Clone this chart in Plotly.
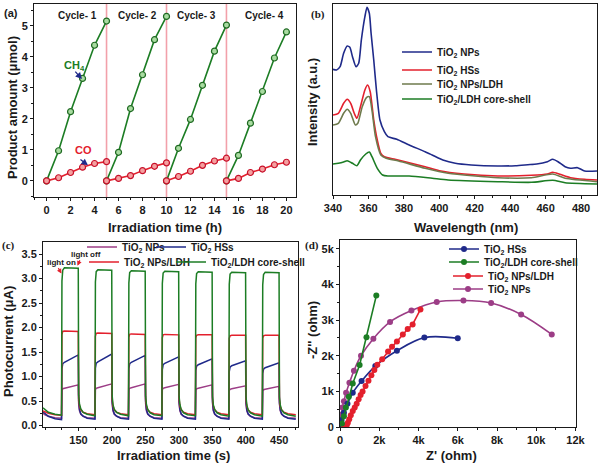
import plotly.graph_objects as go

# ---------------- Panel (a): product amount vs irradiation time ----------------
TIME_H = [[0, 1, 2, 3, 4, 5], [5, 6, 7, 8, 9, 10], [10, 11, 12, 13, 14, 15], [15, 16, 17, 18, 19, 20]]
CH4 = [[0, 0.97, 2.23, 3.30, 4.37, 5.15],
       [0, 0.92, 2.33, 3.42, 4.55, 5.30],
       [0, 1.05, 1.98, 3.08, 4.18, 5.02],
       [0, 0.82, 1.86, 2.88, 3.96, 4.80]]
CO = [[0, 0.10, 0.27, 0.44, 0.56, 0.62],
      [0, 0.08, 0.17, 0.33, 0.47, 0.58],
      [0, 0.14, 0.31, 0.50, 0.64, 0.73],
      [0, 0.08, 0.27, 0.38, 0.52, 0.60]]
CYCLE_BOUNDS = [5, 10, 15]
CYCLE_LABELS = ["Cycle- 1", "Cycle- 2", "Cycle- 3", "Cycle- 4"]
CYCLE_LABEL_X = [2.6, 7.55, 12.5, 18.2]

# ---------------- Panel (b): PL spectra ----------------
WL_NP = [340, 342, 344, 346, 348, 349.5, 351, 353, 354.5, 356, 358, 359.2, 360.5, 361.5, 363, 364.5, 366.5,
         369, 371, 376, 383, 392, 396, 402, 409, 418, 433, 443, 450, 455, 461, 464, 467, 471, 474, 478, 482, 489]
PL_NP = [125.7, 125, 128.3, 141.7, 149, 147.7, 138.3, 128.3, 131.7, 155, 178.3, 187.7, 181.7, 161.7, 135, 105, 75,
         63.3, 58.3, 55.7, 50, 43.3, 40, 35, 31.7, 30, 29, 29.3, 30.3, 31, 33.3, 35.7, 33.3, 28.3, 26.7, 27.3, 24, 24]
WL_HS = [340, 343, 346, 348, 350, 352, 353.5, 355.5, 358, 359.5, 361, 363, 365, 367, 369, 375, 383, 392, 400,
         414, 433, 452, 461, 464, 468, 474, 482, 489]
PL_HS = [80, 81.7, 91.7, 95.7, 91.7, 81.7, 76.7, 88.3, 105, 110, 103.3, 75, 55, 41.7, 38.3, 35.7, 32.3, 28.3,
         24.3, 21, 19, 19.7, 21, 22.7, 20.7, 17.3, 15.7, 15]
WL_NL = [340, 343, 346, 348, 350, 352.6, 354, 356.5, 359, 360.5, 362, 364, 367, 370, 377, 392, 405, 433, 452,
         464, 471, 489]
PL_NL = [70, 71.7, 81.7, 85.7, 81.7, 70, 71.7, 88.3, 97.7, 98.3, 85, 58.3, 40, 36.7, 34, 26.7, 21.7, 17.3, 17.3,
         21, 16.7, 13.3]
WL_CS = [340, 343, 346, 348, 351, 353.5, 355.5, 358.5, 360.5, 362, 365, 368, 371, 383, 396, 405, 433, 452, 464,
         471, 489]
PL_CS = [31, 31.7, 33, 34.3, 31.7, 29.3, 35, 41, 43, 38.3, 26.7, 20, 19, 19, 16.7, 15, 13.3, 12.7, 14.7, 12.3, 11]

# ---------------- Panel (c): transient photocurrent ----------------
T_S = [97, 100, 105, 115, 124.7,
       125.3, 126.5, 129, 149.7, 150.3, 151.5, 153.5, 157, 163, 174.7,
       175.3, 176.5, 179, 199.7, 200.3, 201.5, 203.5, 207, 213, 224.7,
       225.3, 226.5, 229, 249.7, 250.3, 251.5, 253.5, 257, 263, 274.7,
       275.3, 276.5, 279, 299.7, 300.3, 301.5, 303.5, 307, 313, 324.7,
       325.3, 326.5, 329, 349.7, 350.3, 351.5, 353.5, 357, 363, 374.7,
       375.3, 376.5, 379, 399.7, 400.3, 401.5, 403.5, 407, 413, 424.7,
       425.3, 426.5, 429, 449.7, 450.3, 451.5, 453.5, 457, 463, 474.7]
I_NP = [0.25, 0.22, 0.19, 0.16, 0.15,
        0.72, 0.75, 0.76, 0.83, 0.45, 0.30, 0.23, 0.19, 0.16, 0.15,
        0.73, 0.76, 0.77, 0.85, 0.45, 0.30, 0.23, 0.19, 0.16, 0.15,
        0.73, 0.76, 0.77, 0.85, 0.45, 0.30, 0.23, 0.19, 0.16, 0.15,
        0.73, 0.76, 0.77, 0.84, 0.45, 0.30, 0.23, 0.19, 0.16, 0.15,
        0.72, 0.75, 0.76, 0.83, 0.45, 0.30, 0.23, 0.19, 0.16, 0.15,
        0.71, 0.74, 0.75, 0.81, 0.44, 0.30, 0.23, 0.19, 0.16, 0.15,
        0.70, 0.73, 0.74, 0.80, 0.44, 0.30, 0.23, 0.19, 0.16, 0.15]
I_HS = [0.28, 0.24, 0.19, 0.14, 0.12,
        1.16, 1.26, 1.29, 1.44, 0.50, 0.33, 0.24, 0.19, 0.15, 0.13,
        1.17, 1.27, 1.30, 1.46, 0.50, 0.33, 0.24, 0.19, 0.15, 0.13,
        1.16, 1.26, 1.29, 1.43, 0.50, 0.33, 0.24, 0.19, 0.15, 0.13,
        1.14, 1.24, 1.27, 1.40, 0.49, 0.33, 0.24, 0.19, 0.15, 0.13,
        1.12, 1.21, 1.24, 1.36, 0.49, 0.32, 0.24, 0.19, 0.15, 0.13,
        1.10, 1.19, 1.22, 1.32, 0.48, 0.32, 0.24, 0.19, 0.15, 0.13,
        1.06, 1.15, 1.18, 1.28, 0.47, 0.32, 0.24, 0.19, 0.15, 0.13]
I_NL = [0.30, 0.28, 0.25, 0.22, 0.21,
        1.85, 1.92, 1.93, 1.92, 0.55, 0.40, 0.32, 0.27, 0.24, 0.22,
        1.82, 1.88, 1.89, 1.88, 0.54, 0.40, 0.32, 0.27, 0.24, 0.22,
        1.80, 1.86, 1.87, 1.86, 0.54, 0.40, 0.32, 0.27, 0.24, 0.22,
        1.79, 1.85, 1.86, 1.85, 0.54, 0.40, 0.32, 0.27, 0.24, 0.22,
        1.79, 1.84, 1.85, 1.85, 0.54, 0.40, 0.32, 0.27, 0.24, 0.22,
        1.78, 1.83, 1.84, 1.84, 0.53, 0.39, 0.32, 0.27, 0.24, 0.22,
        1.78, 1.83, 1.84, 1.84, 0.53, 0.39, 0.32, 0.27, 0.24, 0.22]
I_CS = [0.36, 0.32, 0.27, 0.23, 0.21,
        2.95, 3.17, 3.22, 3.21, 0.62, 0.44, 0.34, 0.27, 0.23, 0.20,
        2.93, 3.14, 3.18, 3.17, 0.61, 0.43, 0.33, 0.27, 0.23, 0.20,
        2.91, 3.12, 3.16, 3.15, 0.60, 0.43, 0.33, 0.26, 0.22, 0.20,
        2.90, 3.11, 3.15, 3.14, 0.60, 0.43, 0.33, 0.26, 0.22, 0.20,
        2.89, 3.10, 3.14, 3.13, 0.59, 0.42, 0.33, 0.26, 0.22, 0.19,
        2.88, 3.09, 3.13, 3.12, 0.59, 0.42, 0.32, 0.26, 0.22, 0.19,
        2.87, 3.08, 3.13, 3.12, 0.58, 0.42, 0.32, 0.26, 0.22, 0.19]

# ---------------- Panel (d): Nyquist plots ----------------
ZR_HS = [20, 80, 200, 380, 650, 1100, 1800, 2900, 4300, 6000]
ZI_HS = [50, 200, 400, 650, 960, 1290, 1710, 2140, 2510, 2490]
ZR_CS = [100, 200, 300, 450, 650, 1000, 1350, 1850]
ZI_CS = [100, 300, 550, 850, 1220, 1740, 2520, 3690]
ZR_NL = [200, 300, 350, 400, 470, 550, 650, 750, 850, 950, 1050, 1150, 1300, 1450, 1600, 1750, 1900, 2150,
         2450, 2650, 2900, 3200, 3450, 3700, 4100]
ZI_NL = [0, 20, 60, 120, 220, 330, 450, 550, 650, 780, 900, 1000, 1150, 1300, 1450, 1600, 1750, 1900,
         2120, 2250, 2400, 2600, 2750, 2880, 3300]
ZR_NP = [40, 80, 120, 200, 310, 480, 710, 1070, 1700, 2550, 3640, 4930, 6290, 7700, 9230, 10790]
ZI_NP = [150, 350, 550, 720, 960, 1240, 1580, 2000, 2480, 2950, 3270, 3510, 3550, 3480, 3160, 2600]

# ---------------- styling ----------------
W, H = 600, 465
SANS = "Liberation Sans, Arial, sans-serif"
SERIF = "Liberation Serif, Times New Roman, serif"
INK = "#1a1a1a"
GREEN = "#1c7d24"
RED = "#e3202d"
NAVY = "#1f2a8a"
OLIVE = "#6e7a4c"
PURPLE = "#9c3d86"


def px_x(p):
    return p / W


def px_y(p):
    return 1 - p / H


fig = go.Figure()

# (a)
for i, (t, ch4, co) in enumerate(zip(TIME_H, CH4, CO)):
    fig.add_trace(go.Scatter(x=t, y=ch4, mode="lines+markers", xaxis="x", yaxis="y", showlegend=False,
                             line=dict(color=GREEN, width=1.6),
                             marker=dict(symbol="circle", size=6, color="#a8dba0",
                                         line=dict(color="#1f6a22", width=1.2))))
    fig.add_trace(go.Scatter(x=t, y=co, mode="lines+markers", xaxis="x", yaxis="y", showlegend=False,
                             line=dict(color=RED, width=1.6),
                             marker=dict(symbol="circle", size=6, color="#f4a0a0",
                                         line=dict(color="#c8102a", width=1.2))))

# (b)
for wl, pl, name, col, lg in [(WL_NP, PL_NP, "TiO<sub>2</sub> NPs", NAVY, "legend"),
                               (WL_HS, PL_HS, "TiO<sub>2</sub> HSs", RED, "legend2"),
                               (WL_NL, PL_NL, "TiO<sub>2</sub> NPs/LDH", OLIVE, "legend3"),
                               (WL_CS, PL_CS, "TiO<sub>2</sub>/LDH core-shell", GREEN, "legend4")]:
    fig.add_trace(go.Scatter(x=wl, y=pl, mode="lines", name=name, xaxis="x2", yaxis="y2", legend=lg,
                             line=dict(color=col, width=1.6, shape="spline", smoothing=0.6)))

# (c)
for ival, name, col, lg in [(I_NP, "TiO<sub>2</sub> NPs", PURPLE, "legend5"),
                            (I_HS, "TiO<sub>2</sub> HSs", NAVY, "legend6"),
                            (I_NL, "TiO<sub>2</sub> NPs/LDH", RED, "legend7"),
                            (I_CS, "TiO<sub>2</sub>/LDH core-shell", GREEN, "legend8")]:
    fig.add_trace(go.Scatter(x=T_S, y=ival, mode="lines", name=name, xaxis="x3", yaxis="y3", legend=lg,
                             line=dict(color=col, width=1.5)))

# (d)
for zr, zi, name, col, shape, ms, lg in [
        (ZR_NP, ZI_NP, "TiO<sub>2</sub> NPs", PURPLE, "spline", 6, "legend12"),
        (ZR_HS, ZI_HS, "TiO<sub>2</sub> HSs", NAVY, "spline", 6, "legend9"),
        (ZR_NL, ZI_NL, "TiO<sub>2</sub> NPs/LDH", RED, "linear", 6, "legend11"),
        (ZR_CS, ZI_CS, "TiO<sub>2</sub>/LDH core-shell", GREEN, "linear", 6, "legend10")]:
    fig.add_trace(go.Scatter(x=zr, y=zi, mode="lines+markers", name=name, xaxis="x4", yaxis="y4", legend=lg,
                             line=dict(color=col, width=1.6, shape=shape),
                             marker=dict(color=col, size=ms, line=dict(color=col, width=0))))

tickfont = dict(family=SANS, size=11, color=INK, weight="bold")


def ax(domain, rng, anchor, **kw):
    d = dict(domain=domain, range=rng, anchor=anchor, showline=True, linecolor=INK, linewidth=1,
             mirror=True, ticks="outside", ticklen=3, tickwidth=1, tickcolor=INK, showgrid=False,
             zeroline=False, tickfont=tickfont, automargin=False)
    d.update(kw)
    return d


layout = dict(
    template="none",
    width=W, height=H, margin=dict(l=0, r=0, t=0, b=0, pad=0, autoexpand=False),
    paper_bgcolor="white", plot_bgcolor="white",
    xaxis=ax([px_x(34), px_x(296)], [-1.05, 20.8], "y", tickvals=list(range(0, 21, 2)),
             minor=dict(ticks="outside", ticklen=2, dtick=1, tickcolor=INK)),
    yaxis=ax([px_y(197), px_y(4)], [-0.52, 5.7], "x", tickvals=[0, 1, 2, 3, 4, 5],
             minor=dict(ticks="outside", ticklen=2, dtick=0.5, tickcolor=INK)),
    xaxis2=ax([px_x(333), px_x(597)], [340, 489], "y2", dtick=20,
              minor=dict(ticks="outside", ticklen=2, dtick=10, tickcolor=INK)),
    yaxis2=ax([px_y(195), px_y(4)], [0, 191], "x2", showticklabels=False, ticks=""),
    xaxis3=ax([px_x(43), px_x(298)], [97, 478], "y3", tickvals=[150, 200, 250, 300, 350, 400, 450],
              minor=dict(ticks="outside", ticklen=2, dtick=25, tickcolor=INK)),
    yaxis3=ax([px_y(427), px_y(242)], [-0.03, 3.745], "x3", dtick=0.5, tickformat=".1f",
              minor=dict(ticks="outside", ticklen=2, dtick=0.25, tickcolor=INK)),
    xaxis4=ax([px_x(340), px_x(575.5)], [0, 12000], "y4", dtick=2000, tickformat="~s",
              minor=dict(ticks="outside", ticklen=2, dtick=1000, tickcolor=INK)),
    yaxis4=ax([px_y(427), px_y(240)], [0, 5250], "x4", dtick=1000, tickformat="~s",
              minor=dict(ticks="outside", ticklen=2, dtick=500, tickcolor=INK)),
)

# legends (one per entry so they can sit exactly where the reference puts them)
legfont = dict(family=SANS, size=10, color=INK, weight="bold")


def leg(text_x, row_y):
    return dict(x=px_x(text_x - 40), y=px_y(row_y), xanchor="left", yanchor="middle",
                bgcolor="rgba(0,0,0,0)", borderwidth=0, font=legfont, itemwidth=30)


layout["legend"] = leg(437, 52)
layout["legend2"] = leg(437, 70)
layout["legend3"] = leg(437, 84)
layout["legend4"] = leg(437, 99)
layout["legend5"] = leg(122, 247)
layout["legend6"] = leg(191, 247)
layout["legend7"] = leg(124, 262)
layout["legend8"] = leg(211, 262)
layout["legend9"] = leg(484, 249)
layout["legend10"] = leg(484, 262)
layout["legend11"] = leg(488, 276)
layout["legend12"] = leg(488, 289)

fig.update_layout(**layout)

# cycle separators (a)
for xb in CYCLE_BOUNDS:
    fig.add_shape(type="line", xref="x", yref="y domain", x0=xb, x1=xb, y0=0, y1=1,
                  line=dict(color="#f2a0aa", width=1.6), layer="below")

ann = []
titlefont = dict(family=SANS, size=13, color=INK, weight="bold")


def ptext(text, x, y, font, angle=0):
    return dict(text=text, x=px_x(x), y=px_y(y), xref="paper", yref="paper", showarrow=False,
                xanchor="center", yanchor="middle", textangle=angle, font=font)


# axis titles
ann.append(ptext("Irradiation time (h)", 165, 227, titlefont))
ann.append(ptext("Product amount (μmol)", 12, 108, titlefont, -90))
ann.append(ptext("Wavelength (nm)", 466, 227, titlefont))
ann.append(ptext("Intensity (a.u.)", 312, 102, titlefont, -90))
ann.append(ptext("Irradiation time (s)", 173, 455, titlefont))
ann.append(ptext("Photocurrent (μA)", 8, 342, titlefont, -90))
ann.append(ptext("Z' (ohm)", 451, 455, titlefont))
ann.append(ptext("-Z'' (ohm)", 312, 330, titlefont, -90))
# panel labels
ann.append(ptext("(a)", 11, 13, dict(family=SANS, size=11, color=INK, weight="bold")))
for lab, xx, yy in [("(b)", 318, 15), ("(c)", 8, 245), ("(d)", 312, 245)]:
    ann.append(ptext(lab, xx, yy, dict(family=SERIF, size=11, color=INK, weight="bold")))
# cycle labels
for lab, cx in zip(CYCLE_LABELS, CYCLE_LABEL_X):
    ann.append(dict(text=lab, x=cx, y=5.32, xref="x", yref="y", showarrow=False,
                    xanchor="center", yanchor="middle",
                    font=dict(family=SANS, size=10, color=INK, weight="bold")))
# CH4 / CO labels and arrows
ann.append(dict(text="CH<sub>4</sub>", x=2.3, y=3.7, xref="x", yref="y", showarrow=False,
                xanchor="center", yanchor="middle",
                font=dict(family=SANS, size=11, color=GREEN, weight="bold")))
ann.append(dict(text="", x=2.95, y=3.28, xref="x", yref="y", showarrow=True, ax=-8, ay=-9,
                arrowhead=2, arrowsize=1, arrowwidth=1.3, arrowcolor=NAVY))
ann.append(dict(text="CO", x=3.1, y=1.0, xref="x", yref="y", showarrow=False,
                xanchor="center", yanchor="middle",
                font=dict(family=SANS, size=11, color=RED, weight="bold")))
ann.append(dict(text="", x=3.45, y=0.5, xref="x", yref="y", showarrow=True, ax=-9, ay=-7,
                arrowhead=2, arrowsize=1, arrowwidth=1.3, arrowcolor=NAVY))
# light on / off
ann.append(ptext("light on", 61, 262, dict(family=SANS, size=8, color=INK, weight="bold")))
ann.append(dict(text="", x=124.6, y=3.1, xref="x3", yref="y3", showarrow=True, ax=-4, ay=-7,
                arrowhead=2, arrowsize=0.8, arrowwidth=1.2, arrowcolor=RED))
ann.append(ptext("light off", 86, 254, dict(family=SANS, size=8, color=INK, weight="bold")))
ann.append(dict(text="", x=148.5, y=3.26, xref="x3", yref="y3", showarrow=True, ax=3, ay=-7,
                arrowhead=2, arrowsize=0.8, arrowwidth=1.2, arrowcolor=RED))
fig.update_layout(annotations=ann)

fig.write_html("out.html")
